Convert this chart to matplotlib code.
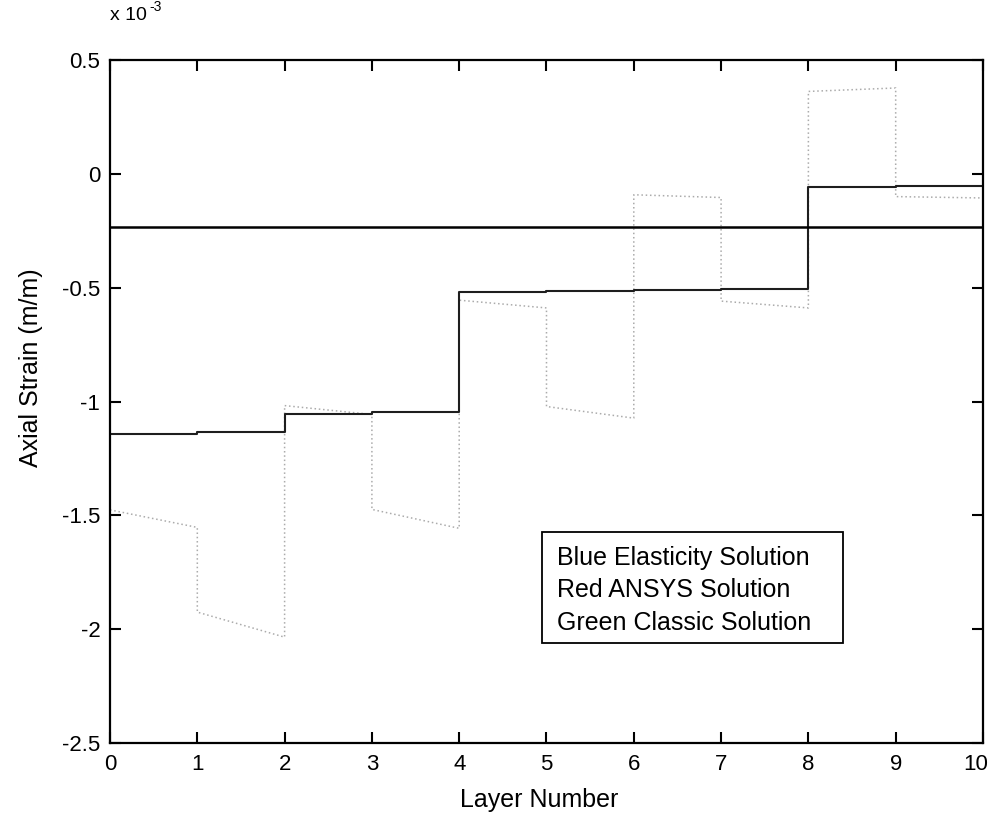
"""
Axial strain through the laminate layers (scanned MATLAB figure)
"""

import matplotlib
matplotlib.use('Agg')
import matplotlib.pyplot as plt
import matplotlib.transforms as mtransforms
from matplotlib.patches import Rectangle
import numpy as np

# Strain values in units of 1e-3 (m/m)
layer_edges = [0, 1, 2, 3, 4, 5, 6, 7, 8, 9, 10]

# flat line across the whole laminate
elasticity_strain = -0.235

# dark step line, one value per layer
ansys_strain = [-1.143, -1.135, -1.053, -1.047, -0.518,
                -0.515, -0.510, -0.505, -0.060, -0.052]

# light dotted line, value at the start and end of each layer
classic_start = [-1.476, -1.925, -1.018, -1.474, -0.555,
                 -1.022, -0.092, -0.559, 0.362, -0.100]
classic_end = [-1.553, -2.035, -1.057, -1.557, -0.589,
               -1.073, -0.104, -0.589, 0.377, -0.106]

legend_lines = ['Blue Elasticity Solution',
                'Red ANSYS Solution',
                'Green Classic Solution']

plt.rcParams['font.family'] = ['Liberation Sans', 'DejaVu Sans']
plt.rcParams['axes.unicode_minus'] = False

fig = plt.figure(figsize=(9.92, 8.14), dpi=100)
ax = fig.add_axes([0.1109, 0.0872, 0.8800, 0.8391])

edges = np.array(layer_edges, dtype=float)

# light sloped series: each layer from start to end
xs = np.repeat(edges, 2)[1:-1]
ys = np.column_stack([classic_start, classic_end]).ravel()
ax.plot(xs, ys, color='#ababab', linestyle=(0, (1, 1.8)), linewidth=1.1)

# dark step series
step_y = np.append(ansys_strain, ansys_strain[-1])
ax.step(edges, step_y, where='post', color='#1e1e1e', linewidth=1.5)

# flat black line
ax.plot([edges[0], edges[-1]], [elasticity_strain, elasticity_strain],
        color='black', linewidth=1.8)

ax.set_xlim(0, 10)
ax.set_ylim(-2.5, 0.5)
ax.set_xticks(np.arange(0, 11, 1))
ax.set_yticks(np.arange(-2.5, 0.51, 0.5))
ax.set_yticklabels(['-2.5', '-2', '-1.5', '-1', '-0.5', '0', '0.5'])
ax.tick_params(direction='in', length=8, width=1.5, top=True, right=True,
               labelsize=16, color='black')
ax.tick_params(axis='x', pad=8)
ax.tick_params(axis='y', pad=7)
for s in ax.spines.values():
    s.set_linewidth(1.6)

# keep the last x label inside the figure, like the original
last = ax.get_xticklabels()[-1]
last.set_transform(last.get_transform() +
                   mtransforms.ScaledTranslation(-0.07, 0, fig.dpi_scale_trans))

# text box in place of a legend
ax.add_patch(Rectangle((0.4948, 0.1464), 0.3448, 0.1626,
                       transform=ax.transAxes, facecolor='white',
                       edgecolor='black', linewidth=1.3, zorder=5))
for txt, yy in zip(legend_lines, [0.2606, 0.2138, 0.1654]):
    ax.text(0.512, yy, txt, transform=ax.transAxes, fontsize=18,
            va='baseline', ha='left', zorder=6)

# labels
fig.text(0.5433, 0.0086, 'Layer Number', fontsize=18, ha='center', va='baseline')
fig.text(0.031, 0.548, 'Axial Strain (m/m)', fontsize=18, rotation=90,
         ha='center', va='center')
fig.text(0.111, 0.9754, 'x 10', fontsize=14, ha='left', va='baseline')
fig.text(0.1505, 0.9865, '-3', fontsize=10, ha='left', va='baseline')

fig.savefig('out.png', dpi=100)
